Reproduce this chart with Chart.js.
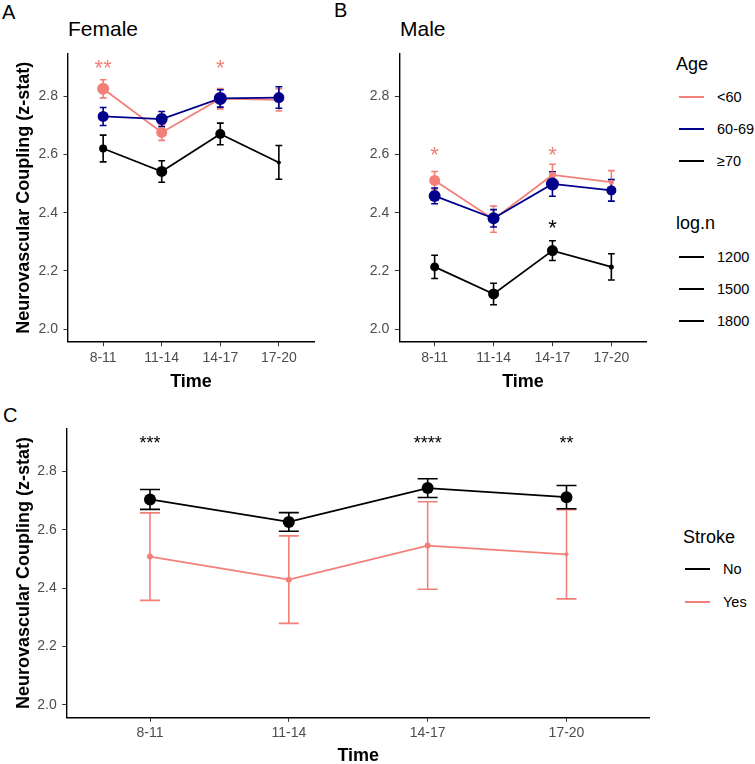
<!DOCTYPE html>
<html>
<head>
<meta charset="utf-8">
<script src="https://cdn.jsdelivr.net/npm/chart.js@4/dist/chart.umd.min.js"></script>
<style>
  body { margin: 0; background: #fff; }
  #page { position: relative; width: 755px; height: 764px; overflow: hidden;
          font-family: "Liberation Sans", Arial, Helvetica, sans-serif; color: #000; }
  canvas { position: absolute; }
  .txt { position: absolute; white-space: nowrap; line-height: 1; transform: translateY(-50%); }
  .key { position: absolute; width: 25px; height: 2px; transform: translateY(-1px); }
</style>
</head>
<body>
<div id="page">
  <div class="txt" style="left:2px;top:12px;font-size:20px">A</div>
  <div class="txt" style="left:68px;top:27.6px;font-size:21px">Female</div>
  <div class="txt" style="left:334px;top:10px;font-size:20px">B</div>
  <div class="txt" style="left:400px;top:27.6px;font-size:21px">Male</div>
  <div class="txt" style="left:3px;top:415px;font-size:20px">C</div>

  <canvas id="chartA" width="330" height="360" style="left:0;top:40px"></canvas>
  <canvas id="chartB" width="330" height="360" style="left:330px;top:40px"></canvas>
  <canvas id="chartC" width="670" height="349" style="left:0;top:415px"></canvas>

  <div class="txt" style="left:676px;top:64px;font-size:18px">Age</div>
  <div class="key" style="left:679px;top:96.7px;background:#f28078"></div>
  <div class="txt" style="left:717px;top:96.7px;font-size:14.5px">&lt;60</div>
  <div class="key" style="left:679px;top:129px;background:#00008b"></div>
  <div class="txt" style="left:717px;top:129px;font-size:14.5px">60-69</div>
  <div class="key" style="left:679px;top:160.7px;background:#000"></div>
  <div class="txt" style="left:717px;top:160.7px;font-size:14.5px">≥70</div>

  <div class="txt" style="left:676px;top:223px;font-size:18px">log.n</div>
  <div class="key" style="left:679px;top:257px;background:#000"></div>
  <div class="txt" style="left:717px;top:257px;font-size:14.5px">1200</div>
  <div class="key" style="left:679px;top:289px;background:#000"></div>
  <div class="txt" style="left:717px;top:289px;font-size:14.5px">1500</div>
  <div class="key" style="left:679px;top:321px;background:#000"></div>
  <div class="txt" style="left:717px;top:321px;font-size:14.5px">1800</div>

  <div class="txt" style="left:683px;top:537px;font-size:18px">Stroke</div>
  <div class="key" style="left:685px;top:569.3px;background:#000"></div>
  <div class="txt" style="left:723px;top:569.3px;font-size:14.5px">No</div>
  <div class="key" style="left:685px;top:601.7px;background:#f28078"></div>
  <div class="txt" style="left:723px;top:601.7px;font-size:14.5px">Yes</div>
</div>

<script>
const timeLabels = ['8-11', '11-14', '14-17', '17-20'];
const yTicks = [2.0, 2.2, 2.4, 2.6, 2.8];

// Female, by age group: mean z-stat, error, sample size
const femaleYoung = [2.826, 2.676, 2.792, 2.788];
const femaleYoungErr = [0.031, 0.027, 0.035, 0.038];
const femaleYoungN = [1900, 1800, 1700, 1300];
const femaleMid = [2.731, 2.722, 2.793, 2.796];
const femaleMidErr = [0.031, 0.026, 0.03, 0.037];
const femaleMidN = [1800, 1900, 2000, 1800];
const femaleOld = [2.621, 2.542, 2.671, 2.573];
const femaleOldErr = [0.046, 0.037, 0.037, 0.058];
const femaleOldN = [1500, 1800, 1700, 1100];

// Male, by age group
const maleYoung = [2.511, 2.378, 2.530, 2.505];
const maleYoungErr = [0.031, 0.045, 0.037, 0.04];
const maleYoungN = [1800, 1300, 1400, 1200];
const maleMid = [2.458, 2.381, 2.499, 2.477];
const maleMidErr = [0.027, 0.03, 0.042, 0.037];
const maleMidN = [1900, 1900, 2000, 1700];
const maleOld = [2.214, 2.121, 2.270, 2.214];
const maleOldErr = [0.04, 0.037, 0.034, 0.045];
const maleOldN = [1600, 1800, 1800, 1200];

// Stroke vs no stroke
const strokeNo = [2.704, 2.627, 2.743, 2.712];
const strokeNoErr = [0.034, 0.032, 0.032, 0.04];
const strokeNoN = [1900, 1900, 1900, 1900];
const strokeYes = [2.508, 2.429, 2.546, 2.516];
const strokeYesErr = [0.15, 0.15, 0.15, 0.153];
const strokeYesN = [1300, 1300, 1300, 1100];

// significance labels
const femaleStars = ['**', '', '*', ''];
const femaleStarsAt = 2.919;
const maleYoungStars = ['*', '', '*', ''];
const maleYoungStarsAt = 2.618;
const maleOldStars = ['', '', '*', ''];
const maleOldStarsAt = 2.366;
const strokeStars = ['***', '', '****', '**'];
const strokeStarsAt = 2.914;

const PINK = '#f28078';
const NAVY = '#00008b';
const BLACK = '#000000';
const FONT = '"Liberation Sans", Arial, Helvetica, sans-serif';

function sizeToRadius(n) {
  return (n - 700) / 200;
}

function series(label, values, errors, sizes, color, order) {
  return {
    label: label,
    order: order,
    errors: errors,
    data: values.map(function (v, i) { return { x: i, y: v }; }),
    borderColor: color,
    backgroundColor: color,
    borderWidth: 1.8,
    pointRadius: sizes.map(sizeToRadius),
    pointBorderWidth: 0,
    pointBackgroundColor: color
  };
}

function errorBars(capWidth) {
  return {
    id: 'errorBars',
    beforeDatasetsDraw(chart) {
      const { ctx } = chart;
      const x = chart.scales.x;
      const y = chart.scales.y;
      const half = Math.abs(x.getPixelForValue(capWidth) - x.getPixelForValue(0));
      chart.data.datasets.forEach(function (ds) {
        ctx.save();
        ctx.strokeStyle = ds.borderColor;
        ctx.lineWidth = 1.6;
        ds.data.forEach(function (pt, i) {
          const px = x.getPixelForValue(pt.x);
          const top = y.getPixelForValue(pt.y + ds.errors[i]);
          const bot = y.getPixelForValue(pt.y - ds.errors[i]);
          ctx.beginPath();
          ctx.moveTo(px, top);
          ctx.lineTo(px, bot);
          ctx.moveTo(px - half, top);
          ctx.lineTo(px + half, top);
          ctx.moveTo(px - half, bot);
          ctx.lineTo(px + half, bot);
          ctx.stroke();
        });
        ctx.restore();
      });
    }
  };
}

function starLabels(rows) {
  return {
    id: 'starLabels',
    afterDatasetsDraw(chart) {
      const { ctx } = chart;
      const x = chart.scales.x;
      const y = chart.scales.y;
      rows.forEach(function (row) {
        ctx.save();
        ctx.fillStyle = row.color;
        ctx.font = row.size + 'px ' + FONT;
        ctx.textAlign = 'center';
        ctx.textBaseline = 'alphabetic';
        row.labels.forEach(function (s, i) {
          if (!s) return;
          ctx.fillText(s, x.getPixelForValue(i), y.getPixelForValue(row.at) + row.size * 0.58);
        });
        ctx.restore();
      });
    }
  };
}

function scales(cfg) {
  const tickGrid = {
    display: true,
    drawOnChartArea: false,
    drawTicks: true,
    tickLength: 4.5,
    color: '#333333',
    lineWidth: 1
  };
  const axisLine = { display: true, color: '#000000', width: 1.4 };
  return {
    x: {
      type: 'linear',
      bounds: 'data',
      min: -0.6,
      max: 3.6,
      afterBuildTicks(scale) {
        scale.ticks = timeLabels.map(function (_, i) { return { value: i }; });
      },
      afterFit(scale) { scale.height = cfg.xHeight; },
      grid: tickGrid,
      border: axisLine,
      ticks: {
        autoSkip: false,
        maxRotation: 0,
        padding: cfg.xTickPad,
        color: '#4d4d4d',
        font: { family: FONT, size: 14 },
        callback(value) { return timeLabels[value]; }
      },
      title: {
        display: true,
        text: 'Time',
        color: '#000',
        font: { family: FONT, size: 18, weight: 'bold', lineHeight: 1 },
        padding: { top: 0, bottom: cfg.xTitlePad }
      }
    },
    y: {
      type: 'linear',
      bounds: 'data',
      min: 1.957,
      max: 2.946,
      afterBuildTicks(scale) {
        scale.ticks = yTicks.map(function (v) { return { value: v }; });
      },
      afterFit(scale) { scale.width = cfg.yWidth; },
      grid: tickGrid,
      border: axisLine,
      ticks: {
        padding: 5.5,
        color: '#4d4d4d',
        font: { family: FONT, size: 14 },
        callback(value) { return Number(value).toFixed(1); }
      },
      title: {
        display: cfg.yTitle,
        text: 'Neurovascular Coupling (z-stat)',
        color: '#000',
        font: { family: FONT, size: 18, weight: 'bold', lineHeight: 1 },
        padding: { top: 15.5, bottom: 0 }
      }
    }
  };
}

function makeChart(id, datasets, plugins, cfg) {
  return new Chart(document.getElementById(id), {
    type: 'line',
    data: { datasets: datasets },
    plugins: plugins,
    options: {
      responsive: false,
      animation: false,
      events: [],
      layout: { padding: cfg.padding },
      plugins: { legend: { display: false }, tooltip: { enabled: false } },
      scales: scales(cfg)
    }
  });
}

makeChart('chartA', [
  series('<60', femaleYoung, femaleYoungErr, femaleYoungN, PINK, 3),
  series('60-69', femaleMid, femaleMidErr, femaleMidN, NAVY, 2),
  series('≥70', femaleOld, femaleOldErr, femaleOldN, BLACK, 1)
], [errorBars(0.058), starLabels([
  { labels: femaleStars, at: femaleStarsAt, color: PINK, size: 22 }
])], {
  padding: { left: 0, top: 10, right: 16, bottom: 0 },
  yWidth: 68, xHeight: 58.3, xTickPad: 4, xTitlePad: 9, yTitle: true
});

makeChart('chartB', [
  series('<60', maleYoung, maleYoungErr, maleYoungN, PINK, 3),
  series('60-69', maleMid, maleMidErr, maleMidN, NAVY, 2),
  series('≥70', maleOld, maleOldErr, maleOldN, BLACK, 1)
], [errorBars(0.058), starLabels([
  { labels: maleYoungStars, at: maleYoungStarsAt, color: PINK, size: 22 },
  { labels: maleOldStars, at: maleOldStarsAt, color: BLACK, size: 22 }
])], {
  padding: { left: 0, top: 10, right: 13.3, bottom: 0 },
  yWidth: 69.3, xHeight: 58.3, xTickPad: 4, xTitlePad: 9, yTitle: false
});

makeChart('chartC', [
  series('Yes', strokeYes, strokeYesErr, strokeYesN, PINK, 2),
  series('No', strokeNo, strokeNoErr, strokeNoN, BLACK, 1)
], [errorBars(0.072), starLabels([
  { labels: strokeStars, at: strokeStarsAt, color: BLACK, size: 18 }
])], {
  padding: { left: 0, top: 11, right: 20.2, bottom: 0 },
  yWidth: 66.7, xHeight: 46.7, xTickPad: 3, xTitlePad: -1, yTitle: true
});
</script>
</body>
</html>
